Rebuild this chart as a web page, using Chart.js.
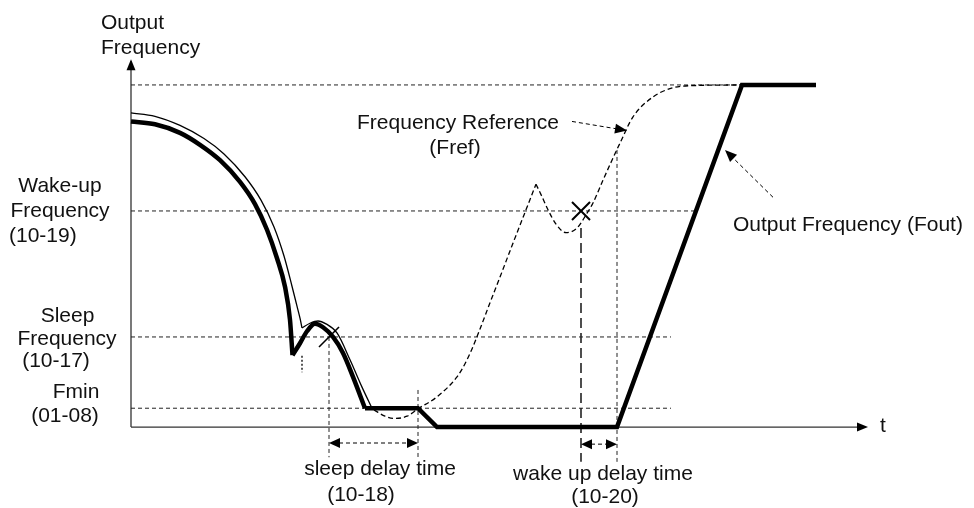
<!DOCTYPE html>
<html>
<head>
<meta charset="utf-8">
<title>Sleep / wake-up operation</title>
<script src="https://cdn.jsdelivr.net/npm/chart.js@4.4.1/dist/chart.umd.min.js"></script>
<style>
  html, body { margin: 0; padding: 0; background: #fff; }
  #wrap { width: 974px; height: 508px; position: relative; }
</style>
</head>
<body>
<div id="wrap"><canvas id="diagram"></canvas></div>
<script>
// frequency levels (y units)
const F_MAX = 60;
const F_WAKE = 37.9;
const F_SLEEP = 15.8;
const F_MIN = 3.3;

// time marks (x units)
const T_STOP_CUSP = 17.1;
const T_SLEEP_ON = 19.8;   // output under sleep frequency
const T_SLEEP_END = 28.7;  // sleep delay time over
const T_WAKE_ON = 45.0;    // reference over wake-up frequency
const T_WAKE_END = 48.6;   // wake up delay time over

// output frequency (thick), split at the sharp corners
const foutFall = [[0, 53.6], [2.4, 53.1], [4.9, 51.6], [6.9, 49.5], [8.9, 46.8], [10.9, 43.0],
  [12.4, 39.1], [13.6, 34.6], [14.6, 29.6], [15.4, 24.6], [15.9, 18.8], [16.15, 12.6]];
const foutHump = [[16.15, 12.6], [16.9, 14.7], [17.6, 16.8], [18.4, 18.1], [19.2, 17.5],
  [20.2, 15.8], [21.2, 13.0], [22.2, 8.8], [23.4, F_MIN]];
const foutTail = [[23.4, F_MIN], [28.7, F_MIN], [30.6, 0], [48.6, 0], [61.1, F_MAX], [68.5, F_MAX]];

// reference while the output follows it (thin line)
const trackFall = [[0, 55.1], [2.4, 54.5], [4.9, 52.9], [7.3, 50.6], [9.3, 47.9], [11.4, 43.9],
  [13.0, 39.8], [14.3, 35.1], [15.3, 30.0], [16.1, 24.7], [16.6, 21.2], [16.9, 19.1], [17.1, 17.4]];
const trackHump = [[17.1, 17.4], [17.9, 18.2], [18.7, 18.6], [19.5, 18.1], [20.6, 16.5],
  [21.9, 11.8], [23.1, 7.0], [24.1, F_MIN]];

// frequency reference during sleep (dashed)
const frefDip = [[24.3, 3.0], [25.4, 1.9], [26.4, 1.5], [27.6, 1.9], [28.7, 3.2], [30.6, 5.3],
  [32.6, 8.8], [33.4, 11.1], [34.1, 13.7], [34.9, 17.2], [35.9, 21.8], [36.9, 26.3],
  [38.1, 31.8], [39.3, 37.2], [40.5, 42.6]];
const frefRise = [[40.5, 42.6], [41.1, 40.4], [41.7, 38.1], [42.5, 35.6], [43.5, 34.1], [44.6, 34.9],
  [45.6, 37.5], [46.2, 39.3], [47.2, 43.3], [48.1, 46.8], [48.9, 49.8], [50.2, 54.4],
  [52.2, 57.9], [54.2, 59.5], [56.4, 59.9], [60.9, F_MAX]];

// dashed level lines and where they stop
const levels = [F_MAX, F_WAKE, F_SLEEP, F_MIN];
const levelEnd = [60.9, 56.4, 54.0, 54.0];

// vertical guides
const guideT = [T_SLEEP_ON, T_SLEEP_END, T_STOP_CUSP, T_WAKE_ON, T_WAKE_END];
const guideTop = [F_SLEEP, 6.5, 12.5, 34.9, 48.6];
const guideBottom = [-5.3, -5.3, 9.6, -6.1, -6.1];

const pts = a => a.map(p => ({ x: p[0], y: p[1] }));

function line(data, width, dash, extra) {
  return Object.assign({
    data: pts(data), showLine: true, pointRadius: 0, borderColor: '#000',
    borderWidth: width, borderDash: dash || [], fill: false, tension: 0,
    borderJoinStyle: 'miter'
  }, extra || {});
}
const smooth = { cubicInterpolationMode: 'monotone' };

const datasets = [
  line(foutFall, 4.5, null, smooth),
  line(foutHump, 4.5, null, smooth),
  line(foutTail, 4.5),
  line(trackFall, 1.3, null, smooth),
  line(trackHump, 1.3, null, smooth),
  line(frefDip, 1.3, [5, 3], smooth),
  line(frefRise, 1.3, [5, 3], smooth)
];
levels.forEach((f, i) => {
  datasets.push(line([[0, f], [levelEnd[i], f]], 1, [4, 3], { borderColor: '#222' }));
});
const guideStyle = [[4, 3], [4, 3], [2, 2], [10, 5], [4, 3]];
const guideWidth = [1, 1, 1.5, 1.6, 1];
guideT.forEach((t, i) => {
  datasets.push(line([[t, guideTop[i]], [t, guideBottom[i]]], guideWidth[i], guideStyle[i], { borderColor: '#222' }));
});

// text, anchored in chart units (baseline)
const FONT = '21px "Liberation Sans", Arial, sans-serif';
const labels = [
  ['Output', -3.0, 69.9, 'left'],
  ['Frequency', -3.0, 65.4, 'left'],
  ['Frequency Reference', 32.7, 52.2, 'center'],
  ['(Fref)', 32.4, 47.9, 'center'],
  ['Wake-up', -7.1, 41.3, 'center'],
  ['Frequency', -7.1, 36.9, 'center'],
  ['(10-19)', -12.2, 32.5, 'left'],
  ['Output Frequency (Fout)', 60.2, 34.4, 'left'],
  ['Sleep', -6.35, 18.5, 'center'],
  ['Frequency', -6.4, 14.4, 'center'],
  ['(10-17)', -7.5, 10.6, 'center'],
  ['Fmin', -5.5, 5.1, 'center'],
  ['(01-08)', -6.6, 0.9, 'center'],
  ['sleep delay time', 24.9, -8.4, 'center'],
  ['(10-18)', 23.0, -12.9, 'center'],
  ['wake up delay time', 47.2, -9.3, 'center'],
  ['(10-20)', 47.4, -13.3, 'center'],
  ['t', 74.9, -0.8, 'left']
];

function head(ctx, x0, y0, x1, y1, len, half) {
  const a = Math.atan2(y1 - y0, x1 - x0);
  const c = Math.cos(a), s = Math.sin(a);
  ctx.beginPath();
  ctx.moveTo(x1, y1);
  ctx.lineTo(x1 - len * c + half * s, y1 - len * s - half * c);
  ctx.lineTo(x1 - len * c - half * s, y1 - len * s + half * c);
  ctx.closePath();
  ctx.fill();
}

// dashed shaft with a filled head at (x1,y1)
function arrow(ctx, x0, y0, x1, y1, dash) {
  const a = Math.atan2(y1 - y0, x1 - x0);
  ctx.save();
  ctx.setLineDash(dash);
  ctx.lineWidth = 1;
  ctx.beginPath();
  ctx.moveTo(x0, y0);
  ctx.lineTo(x1 - 10 * Math.cos(a), y1 - 10 * Math.sin(a));
  ctx.stroke();
  ctx.restore();
  head(ctx, x0, y0, x1, y1, 12, 5);
}

function both(ctx, xa, xb, y) {
  ctx.save();
  ctx.setLineDash([4, 3]);
  ctx.lineWidth = 1;
  ctx.beginPath();
  ctx.moveTo(xa + 10, y);
  ctx.lineTo(xb - 10, y);
  ctx.stroke();
  ctx.restore();
  head(ctx, xb, y, xa, y, 11, 5);
  head(ctx, xa, y, xb, y, 11, 5);
}

const sketch = {
  id: 'sketch',
  beforeDatasetsDraw(chart) {
    const { ctx, scales: { x, y } } = chart;
    const ox = x.getPixelForValue(0), oy = y.getPixelForValue(0);
    ctx.save();
    ctx.strokeStyle = '#333';
    ctx.fillStyle = '#000';
    ctx.lineWidth = 1.3;
    ctx.beginPath();
    ctx.moveTo(ox, oy);
    ctx.lineTo(ox, y.getPixelForValue(64.2));
    ctx.moveTo(ox, oy);
    ctx.lineTo(x.getPixelForValue(72.8), oy);
    ctx.stroke();
    head(ctx, ox, oy, ox, y.getPixelForValue(64.5), 11, 4.5);
    head(ctx, ox, oy, x.getPixelForValue(73.7), oy, 11, 4.5);
    ctx.restore();
  },
  afterDatasetsDraw(chart) {
    const { ctx, scales: { x, y } } = chart;
    const X = t => x.getPixelForValue(t), Y = f => y.getPixelForValue(f);
    ctx.save();
    ctx.strokeStyle = '#000';
    ctx.fillStyle = '#000';

    // sleep detection slash and wake detection cross
    ctx.lineWidth = 1.6;
    const sx = X(T_SLEEP_ON), sy = Y(F_SLEEP);
    ctx.beginPath();
    ctx.moveTo(sx - 10, sy + 10);
    ctx.lineTo(sx + 10, sy - 10);
    ctx.stroke();
    ctx.lineWidth = 2;
    const wx = X(T_WAKE_ON), wy = Y(F_WAKE);
    ctx.beginPath();
    ctx.moveTo(wx - 9, wy - 9); ctx.lineTo(wx + 9, wy + 9);
    ctx.moveTo(wx - 9, wy + 9); ctx.lineTo(wx + 9, wy - 9);
    ctx.stroke();

    // delay time spans
    both(ctx, X(T_SLEEP_ON), X(T_SLEEP_END), Y(-2.8));
    both(ctx, X(T_WAKE_ON), X(T_WAKE_END), Y(-3.0));

    // pointers from the curve names
    arrow(ctx, X(44.1), Y(53.6), X(49.6), Y(52.0), [4, 3]);
    arrow(ctx, X(64.2), Y(40.3), X(59.4), Y(48.6), [4, 3]);

    ctx.font = FONT;
    ctx.fillStyle = '#111';
    ctx.textBaseline = 'alphabetic';
    labels.forEach(([txt, t, f, align]) => {
      ctx.textAlign = align;
      ctx.fillText(txt, X(t), Y(f));
    });
    ctx.restore();
  }
};

new Chart(document.getElementById('diagram').getContext('2d'), {
  type: 'scatter',
  data: { datasets: datasets },
  options: {
    responsive: true,
    maintainAspectRatio: false,
    devicePixelRatio: 1,
    animation: false,
    layout: { padding: 0 },
    plugins: { legend: { display: false }, tooltip: { enabled: false } },
    scales: {
      x: { type: 'linear', min: -13.1, max: 84.3, display: false },
      y: { type: 'linear', min: -14.2, max: 74.9, display: false }
    }
  },
  plugins: [sketch]
});
</script>
</body>
</html>
